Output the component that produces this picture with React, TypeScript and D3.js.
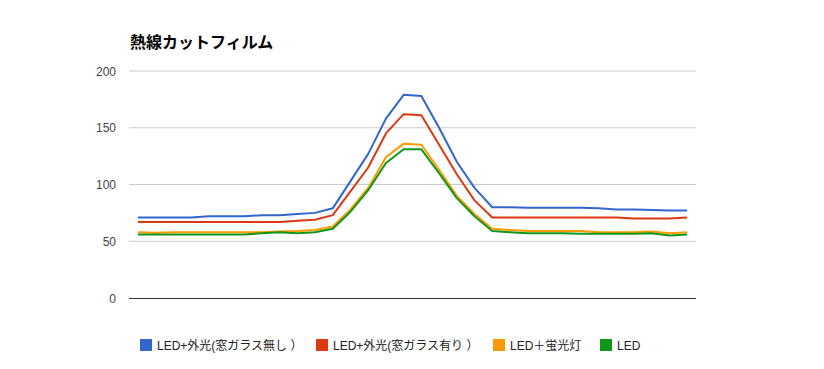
import * as d3 from 'd3';

const title = '熱線カットフィルム';

// 32 measurement points (no x labels shown)
const categories = d3.range(1, 33).map(String);

const seriesNames = [
  'LED+外光(窓ガラス無し ）',
  'LED+外光(窓ガラス有り ）',
  'LED＋蛍光灯',
  'LED',
];

const colors = ['#3366cc', '#dc3912', '#ff9900', '#109618'];

const noGlass = [71, 71, 71, 71, 72, 72, 72, 73, 73, 74, 75, 79, 103, 127, 158, 179, 178, 150, 120, 97, 80, 80, 79.5, 79.5, 79.5, 79.5, 79, 78, 78, 77.5, 77, 77];
const withGlass = [67, 67, 67, 67, 67, 67, 67, 67, 67, 68, 69, 73, 94, 115, 145, 162, 161, 135, 109, 86, 71, 71, 71, 71, 71, 71, 71, 71, 70, 70, 70, 71];
const fluorescent = [58, 57.5, 58, 58, 58, 58, 58, 58, 58.5, 59, 60, 63, 78, 97, 124, 136, 135, 113, 90, 74, 61, 60, 59, 59, 59, 59, 58, 58, 58, 58.5, 57, 58];
const ledOnly = [56, 56, 56, 56, 56, 56, 56, 57, 58, 57, 58, 61, 76, 95, 119, 131, 131, 110, 88, 72, 59, 58, 57, 57, 57, 56.5, 56.5, 56.5, 56.5, 57, 55, 56];

const seriesValues = [noGlass, withGlass, fluorescent, ledOnly];
const yTicks = [0, 50, 100, 150, 200];

export default function App() {
  const width = 824;
  const height = 369;
  const left = 129;
  const right = 696;
  const top = 71;
  const bottom = 298;

  const x = d3.scalePoint<string>().domain(categories).range([left, right]).padding(0.5);
  const y = d3.scaleLinear().domain([0, 200]).range([bottom, top]);

  const line = d3
    .line<number>()
    .x((_, i) => x(categories[i]) as number)
    .y((d) => y(d));

  const legendX = [140, 316, 493, 600];

  return (
    <svg
      width={width}
      height={height}
      style={{ position: 'absolute', left: 0, top: 0, background: '#fff' }}
      fontFamily="Arial, 'Liberation Sans', 'Noto Sans CJK JP', sans-serif"
    >
      <text x={130} y={48} fontSize={16} fontWeight="bold" fill="#000">
        {title}
      </text>

      {yTicks.map((t) => (
        <g key={t}>
          {t !== 0 && (
            <line x1={left} x2={right} y1={y(t)} y2={y(t)} stroke="#cccccc" strokeWidth={1} />
          )}
          <text x={116} y={y(t) + 4.5} fontSize={12} textAnchor="end" fill="#444">
            {t}
          </text>
        </g>
      ))}

      {seriesValues.map((vals, i) => (
        <path
          key={seriesNames[i]}
          d={line(vals) ?? ''}
          fill="none"
          stroke={colors[i]}
          strokeWidth={2}
          strokeLinejoin="round"
        />
      ))}

      <line x1={left} x2={right} y1={bottom + 0.5} y2={bottom + 0.5} stroke="#333333" strokeWidth={1} />

      {seriesNames.map((name, i) => (
        <g key={name} transform={`translate(${legendX[i]},339)`}>
          <rect x={0} y={0} width={12} height={12} fill={colors[i]} />
          <text x={17} y={10.5} fontSize={12} fill="#222">
            {name}
          </text>
        </g>
      ))}
    </svg>
  );
}
